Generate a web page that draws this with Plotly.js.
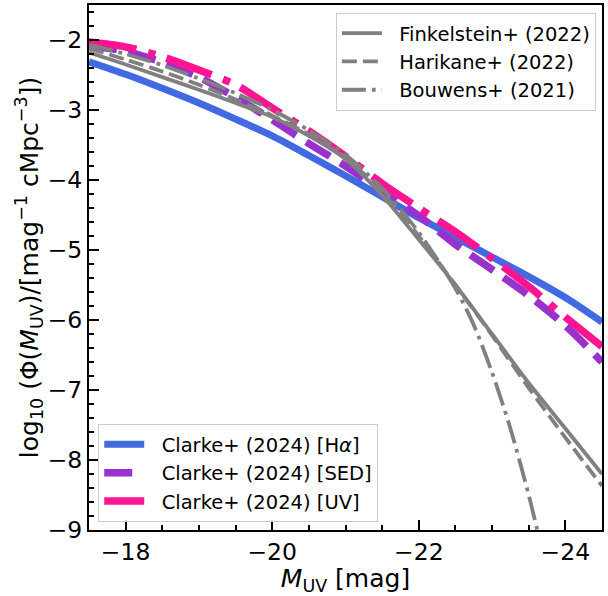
<!DOCTYPE html>
<html>
<head>
<meta charset="utf-8">
<script src="https://cdn.plot.ly/plotly-3.0.1.min.js"></script>
<style>
  html, body { margin: 0; padding: 0; background: #fff; }
  #chart { width: 608px; height: 596px; }
</style>
</head>
<body>
<div id="chart"></div>
<script>
// UV magnitude grid (mag) shared by most curves
const magGrid = [-17.5, -18.0, -18.5, -19.0, -19.5, -20.0, -20.5, -21.0, -21.5, -22.0, -22.5, -23.0, -23.5, -24.0, -24.5];

// log10 Phi for the Clarke+ (2024) luminosity functions
const clarkeHa  = [-2.31, -2.49, -2.69, -2.90, -3.13, -3.37, -3.65, -3.94, -4.24, -4.54, -4.82, -5.10, -5.38, -5.68, -6.03];
const clarkeSED = [-2.08, -2.16, -2.32, -2.53, -2.82, -3.14, -3.48, -3.80, -4.16, -4.51, -4.92, -5.28, -5.65, -6.08, -6.60];
const clarkeUV  = [-2.03, -2.10, -2.24, -2.43, -2.64, -2.97, -3.30, -3.66, -4.05, -4.40, -4.74, -5.12, -5.52, -5.96, -6.38];

// literature luminosity functions
const finkelstein = [-2.18, -2.35, -2.53, -2.71, -2.90, -3.10, -3.37, -3.70, -4.22, -4.85, -5.50, -6.20, -6.90, -7.55, -8.20];
const harikane    = [-2.12, -2.28, -2.45, -2.64, -2.85, -3.08, -3.35, -3.68, -4.17, -4.80, -5.50, -6.22, -6.97, -7.68, -8.37];
const bouwensMag  = [-17.5, -18.0, -18.5, -19.0, -19.5, -20.0, -20.5, -21.0, -21.5, -22.0, -22.5, -22.75, -23.0, -23.25, -23.5, -23.65];
const bouwens     = [-2.07, -2.20, -2.36, -2.55, -2.76, -3.00, -3.29, -3.64, -4.12, -4.75, -5.55, -6.07, -6.75, -7.55, -8.50, -9.15];

// tick labels
const xTicks = [-18, -20, -22, -24];
const yTicks = [-2, -3, -4, -5, -6, -7, -8, -9];

const FONT = "DejaVu Sans, Liberation Sans, sans-serif";
const PAD = "\u00a0\u00a0"; // gap between legend line sample and label

function curve(name, x, y, color, width, dash, legend) {
  return {
    type: "scatter", mode: "lines", name: PAD + name, x: x, y: y,
    line: { color: color, width: width, dash: dash, shape: "spline", smoothing: 0.8 },
    legend: legend, hoverinfo: "skip"
  };
}

const traces = [
  curve("Clarke+ (2024) [H<i>α</i>]", magGrid, clarkeHa, "#4169E1", 7, "solid", "legend2"),
  curve("Clarke+ (2024) [SED]", magGrid, clarkeSED, "#9932CC", 7.5, "28px,12px", "legend2"),
  curve("Clarke+ (2024) [UV]", magGrid, clarkeUV, "#FF1493", 7.5, "48px,12px,7.5px,12px", "legend2"),
  curve("Finkelstein+ (2022)", magGrid, finkelstein, "#808080", 3.8, "solid", "legend"),
  curve("Harikane+ (2022)", magGrid, harikane, "#808080", 3.8, "15px,6px", "legend"),
  curve("Bouwens+ (2021)", bouwensMag, bouwens, "#808080", 3.8, "24px,6px,3.8px,6px", "legend")
];

const axisCommon = {
  showline: true, linecolor: "#000", linewidth: 2, mirror: true,
  ticks: "inside", ticklen: 10, tickwidth: 2, tickcolor: "#000",
  showgrid: false, zeroline: false,
  tickfont: { family: FONT, size: 23.5, color: "#000" }
};

const legendCommon = {
  bgcolor: "rgba(255,255,255,0.8)", bordercolor: "#cccccc", borderwidth: 1,
  font: { family: FONT, size: 19.5, color: "#000" }, tracegroupgap: 0, itemwidth: 40
};

const layout = {
  width: 608, height: 596,
  margin: { l: 89, r: 6, t: 5, b: 66 },
  paper_bgcolor: "#fff", plot_bgcolor: "#fff",
  showlegend: true,
  xaxis: Object.assign({}, axisCommon, {
    range: [-17.5, -24.5], tickvals: xTicks,
    minor: { dtick: 0.5, tick0: -18, ticks: "inside", ticklen: 5, tickwidth: 1.5, tickcolor: "#000", showgrid: false },
    title: { text: "<i>M</i><sub>UV</sub> [mag]", font: { family: FONT, size: 25, color: "#000" }, standoff: 4 }
  }),
  yaxis: Object.assign({}, axisCommon, {
    range: [-9, -1.5], tickvals: yTicks,
    minor: { dtick: 0.2, tick0: -9, ticks: "inside", ticklen: 5, tickwidth: 1.5, tickcolor: "#000", showgrid: false },
    title: { text: "log<sub>10</sub> (Φ(<i>M</i><sub>UV</sub>)/[mag<sup>−1</sup> cMpc<sup>−3</sup>])", font: { family: FONT, size: 25, color: "#000" }, standoff: 2 }
  }),
  legend: Object.assign({}, legendCommon, { x: 0.988, y: 0.985, xanchor: "right", yanchor: "top" }),
  legend2: Object.assign({}, legendCommon, { x: 0.018, y: 0.015, xanchor: "left", yanchor: "bottom" })
};

Plotly.newPlot("chart", traces, layout, { displayModeBar: false });
</script>
</body>
</html>
